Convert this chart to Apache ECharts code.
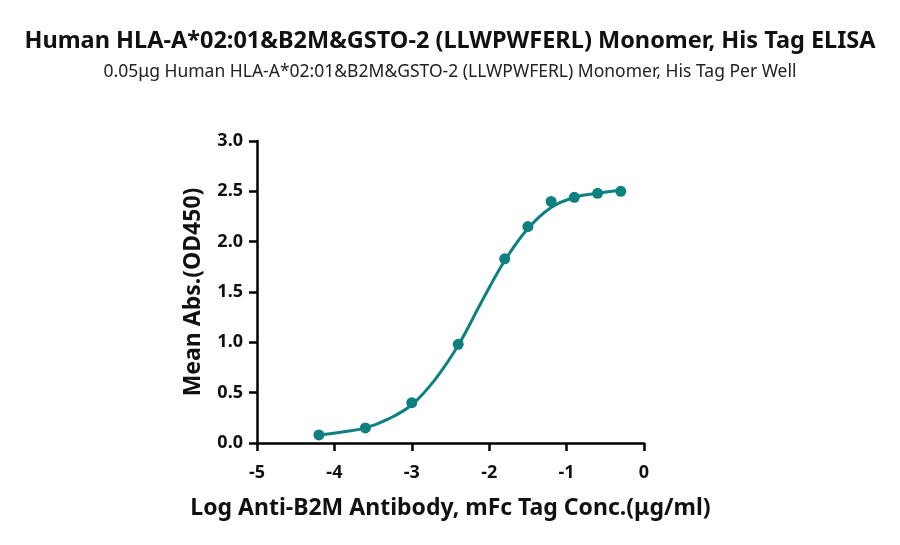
<!DOCTYPE html>
<html>
<head>
<meta charset="utf-8">
<script src="https://cdn.jsdelivr.net/npm/echarts@6/dist/echarts.min.js"></script>
<style>
html, body { margin: 0; padding: 0; background: #fff; }
#chart { width: 900px; height: 545px; }
</style>
</head>
<body>
<div id="chart"></div>
<script>
// measured points (log conc, OD450)
var logConc = [-4.2, -3.6, -3.0, -2.4, -1.8, -1.5, -1.2, -0.9, -0.6, -0.3];
var meanAbs = [0.08, 0.15, 0.40, 0.98, 1.83, 2.15, 2.40, 2.44, 2.48, 2.50];

// fitted curve
var curveX = [-4.2, -3.9, -3.6, -3.3, -3.0, -2.7, -2.4, -2.1, -1.8, -1.5, -1.2, -0.9, -0.6, -0.3];
var curveY = [0.08, 0.11, 0.15, 0.24, 0.38, 0.63, 0.97, 1.40, 1.81, 2.13, 2.34, 2.44, 2.48, 2.51];

var xTicks = [-5, -4, -3, -2, -1, 0];
var yTicks = [0.0, 0.5, 1.0, 1.5, 2.0, 2.5, 3.0];

var teal = '#0f8080';
var fontName = '"Noto Sans", sans-serif';

var pts = logConc.map(function (x, i) { return [x, meanAbs[i]]; });
var curve = curveX.map(function (x, i) { return [x, curveY[i]]; });

var chart = echarts.init(document.getElementById('chart'));

var option = {
	animation: false,
	backgroundColor: '#fff',
	title: [{
		text: 'Human HLA-A*02:01&B2M&GSTO-2 (LLWPWFERL) Monomer, His Tag ELISA',
		left: 'center',
		top: 24,
		textStyle: { fontFamily: fontName, fontSize: 23.5, fontWeight: 'bold', color: '#111' }
	}, {
		text: '0.05\u03bcg Human HLA-A*02:01&B2M&GSTO-2 (LLWPWFERL) Monomer, His Tag Per Well',
		left: 'center',
		top: 58,
		textStyle: { fontFamily: fontName, fontSize: 17.5, fontWeight: 'normal', color: '#222' }
	}],
	grid: { left: 257, right: 256, top: 141, bottom: 102 },
	xAxis: {
		type: 'value',
		min: xTicks[0],
		max: xTicks[xTicks.length - 1],
		interval: 1,
		name: 'Log Anti-B2M Antibody, mFc Tag Conc.(\u03bcg/ml)',
		nameLocation: 'middle',
		nameGap: 54,
		nameTextStyle: { fontFamily: fontName, fontSize: 23, fontWeight: 'bold', color: '#111' },
		axisLine: { onZero: false, lineStyle: { color: '#000', width: 2.5 } },
		axisTick: { show: true, length: 8, lineStyle: { color: '#000', width: 2.5 } },
		axisLabel: { fontFamily: fontName, fontSize: 18, fontWeight: 'bold', color: '#111', margin: 21 },
		splitLine: { show: false }
	},
	yAxis: {
		type: 'value',
		min: yTicks[0],
		max: yTicks[yTicks.length - 1],
		interval: 0.5,
		name: 'Mean Abs.(OD450)',
		nameLocation: 'middle',
		nameGap: 52,
		nameTextStyle: { fontFamily: fontName, fontSize: 23, fontWeight: 'bold', color: '#111' },
		axisLine: { show: true, onZero: false, lineStyle: { color: '#000', width: 2.5 } },
		axisTick: { show: true, length: 8, lineStyle: { color: '#000', width: 2.5 } },
		axisLabel: {
			fontFamily: fontName, fontSize: 18, fontWeight: 'bold', color: '#111', margin: 14,
			formatter: function (v) { return v.toFixed(1); }
		},
		splitLine: { show: false }
	},
	series: [{
		type: 'line',
		data: curve,
		smooth: 0.4,
		showSymbol: false,
		lineStyle: { color: teal, width: 3 },
		z: 2
	}, {
		type: 'scatter',
		data: pts,
		symbol: 'circle',
		symbolSize: 11,
		itemStyle: { color: teal, opacity: 1 },
		z: 3
	}]
};

chart.setOption(option);
</script>
</body>
</html>
